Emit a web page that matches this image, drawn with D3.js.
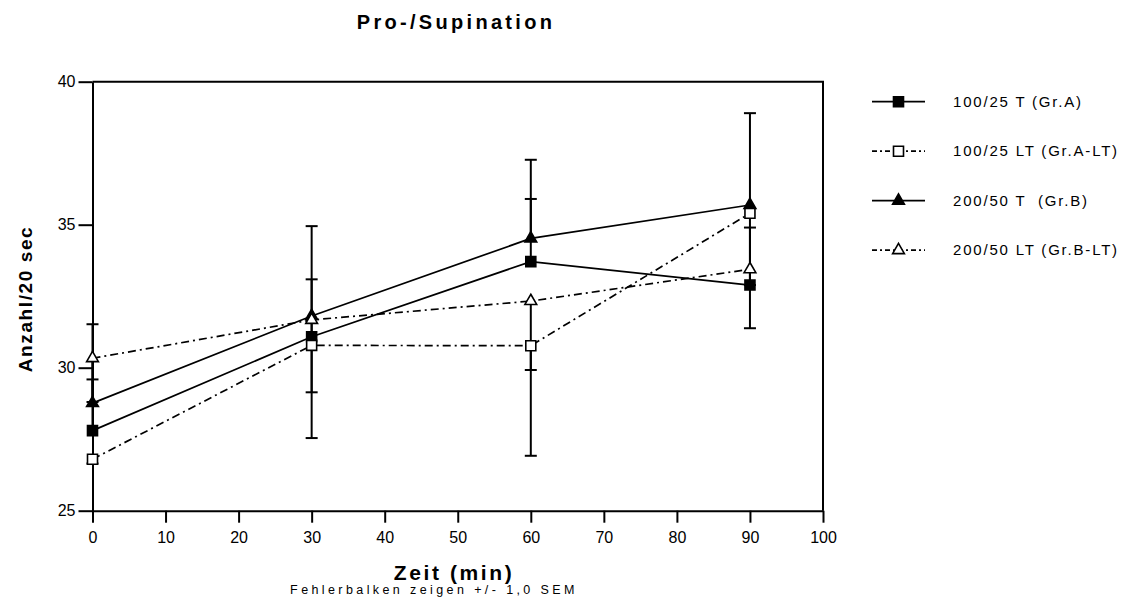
<!DOCTYPE html>
<html>
<head>
<meta charset="utf-8">
<script src="https://cdn.jsdelivr.net/npm/d3@7"></script>
<style>
  body { margin: 0; background: #fff; }
  svg { font-family: "Liberation Sans", Arial, sans-serif; }
</style>
</head>
<body>
<svg id="chart" width="1125" height="607"></svg>
<script>
// time points (min)
const times = [0, 30, 60, 90]
const xTicks = [0, 10, 20, 30, 40, 50, 60, 70, 80, 90, 100]
const yTicks = [25, 30, 35, 40]

// group means
const grA = [27.8, 31.08, 33.71, 32.89]
const grALT = [26.8, 30.78, 30.77, 35.4]
const grB = [28.76, 31.81, 34.52, 35.69]
const grBLT = [30.33, 31.67, 32.33, 33.44]

// SEM per group (drawn one-sided)
const semA = [1.79, 2.01, 2.19, 2.01]
const semALT = [0.15, 3.24, 3.85, 4.02]
const semB = [2.76, 3.14, 2.75, 3.21]
const semBLT = [1.53, 2.53, 2.41, 0.55]

const names = ['100/25 T (Gr.A)', '100/25 LT (Gr.A-LT)', '200/50 T  (Gr.B)', '200/50 LT (Gr.B-LT)']

const series = [
  { name: names[0], values: grA, sem: semA, dir: 1, symbol: d3.symbolSquare, filled: true, dashed: false },
  { name: names[1], values: grALT, sem: semALT, dir: -1, symbol: d3.symbolSquare, filled: false, dashed: true },
  { name: names[2], values: grB, sem: semB, dir: 1, symbol: d3.symbolTriangle, filled: true, dashed: false },
  { name: names[3], values: grBLT, sem: semBLT, dir: -1, symbol: d3.symbolTriangle, filled: false, dashed: true },
]

const svg = d3.select('#chart')
const margin = { top: 81.7, left: 92.5 }
const width = 823 - margin.left
const height = 510.7 - margin.top

const x = d3.scaleLinear().domain([0, 100]).range([0, width])
const y = d3.scaleLinear().domain([25, 40]).range([height, 0])

const g = svg.append('g').attr('transform', 'translate(' + margin.left + ',' + margin.top + ')')

// frame (top + right)
g.append('path')
  .attr('d', 'M0,0H' + width + 'V' + height)
  .attr('fill', 'none')
  .attr('stroke', '#000')
  .attr('stroke-width', 2)

// axes
const xAxis = g.append('g')
  .attr('transform', 'translate(0,' + height + ')')
  .call(d3.axisBottom(x).tickValues(xTicks).tickSize(12).tickSizeOuter(0).tickPadding(9))
const yAxis = g.append('g')
  .call(d3.axisLeft(y).tickValues(yTicks).tickSize(14).tickSizeOuter(0).tickPadding(3))

;[xAxis, yAxis].forEach((a) => {
  a.select('.domain').attr('stroke-width', 2)
  a.selectAll('.tick line').attr('stroke-width', 2)
  a.selectAll('.tick text').attr('font-size', 16).attr('fill', '#000')
    .attr('font-family', '"Liberation Sans", Arial, sans-serif')
})

const symbolPath = (s) => d3.symbol().type(s.symbol).size(s.symbol === d3.symbolSquare ? 100 : 60)()
const dash = '8,4,2,4'

// connecting lines
const line = d3.line().x((d, i) => x(times[i])).y((d) => y(d))
series.forEach((s) => {
  g.append('path')
    .datum(s.values)
    .attr('d', line)
    .attr('fill', 'none')
    .attr('stroke', '#000')
    .attr('stroke-width', 1.7)
    .attr('stroke-dasharray', s.dashed ? dash : null)
})

// error bars
series.forEach((s) => {
  const eb = g.append('g').selectAll('g').data(s.values).enter().append('g')
  eb.append('line')
    .attr('x1', (d, i) => x(times[i]))
    .attr('x2', (d, i) => x(times[i]))
    .attr('y1', (d) => y(d))
    .attr('y2', (d, i) => y(d + s.dir * s.sem[i]))
    .attr('stroke', '#000')
    .attr('stroke-width', 2)
  eb.append('line')
    .attr('x1', (d, i) => x(times[i]) - 6)
    .attr('x2', (d, i) => x(times[i]) + 6)
    .attr('y1', (d, i) => y(d + s.dir * s.sem[i]))
    .attr('y2', (d, i) => y(d + s.dir * s.sem[i]))
    .attr('stroke', '#000')
    .attr('stroke-width', 2)
})

// markers
series.forEach((s) => {
  g.append('g').selectAll('path').data(s.values).enter().append('path')
    .attr('d', symbolPath(s))
    .attr('transform', (d, i) => 'translate(' + x(times[i]) + ',' + y(d) + ')')
    .attr('fill', s.filled ? '#000' : '#fff')
    .attr('stroke', '#000')
    .attr('stroke-width', 1.6)
})

// legend
const legend = svg.append('g').attr('transform', 'translate(872,101.7)')
series.forEach((s, i) => {
  const row = legend.append('g').attr('transform', 'translate(0,' + i * 49.5 + ')')
  row.append('line')
    .attr('x1', 0).attr('x2', 53).attr('y1', 0).attr('y2', 0)
    .attr('stroke', '#000').attr('stroke-width', 1.7)
    .attr('stroke-dasharray', s.dashed ? '5,3,2,3' : null)
  row.append('path')
    .attr('d', symbolPath(s))
    .attr('transform', 'translate(26.5,0)')
    .attr('fill', s.filled ? '#000' : '#fff')
    .attr('stroke', '#000')
    .attr('stroke-width', 1.6)
  row.append('text')
    .attr('x', 81).attr('dy', '0.35em')
    .attr('font-size', 15).attr('letter-spacing', 1.8)
    .style('white-space', 'pre')
    .text(s.name)
})

// titles
svg.append('text')
  .attr('x', 456).attr('y', 29)
  .attr('text-anchor', 'middle')
  .attr('font-size', 20).attr('font-weight', 'bold').attr('letter-spacing', 3.3)
  .text('Pro-/Supination')

svg.append('text')
  .attr('transform', 'translate(32,299)rotate(-90)')
  .attr('text-anchor', 'middle')
  .attr('font-size', 19).attr('font-weight', 'bold').attr('letter-spacing', 1.6)
  .text('Anzahl/20 sec')

svg.append('text')
  .attr('x', 454).attr('y', 580)
  .attr('text-anchor', 'middle')
  .attr('font-size', 21).attr('font-weight', 'bold').attr('letter-spacing', 2.6)
  .text('Zeit (min)')

svg.append('text')
  .attr('x', 434).attr('y', 594)
  .attr('text-anchor', 'middle')
  .attr('font-size', 12.5).attr('letter-spacing', 3.4)
  .text('Fehlerbalken zeigen +/- 1,0 SEM')
</script>
</body>
</html>
